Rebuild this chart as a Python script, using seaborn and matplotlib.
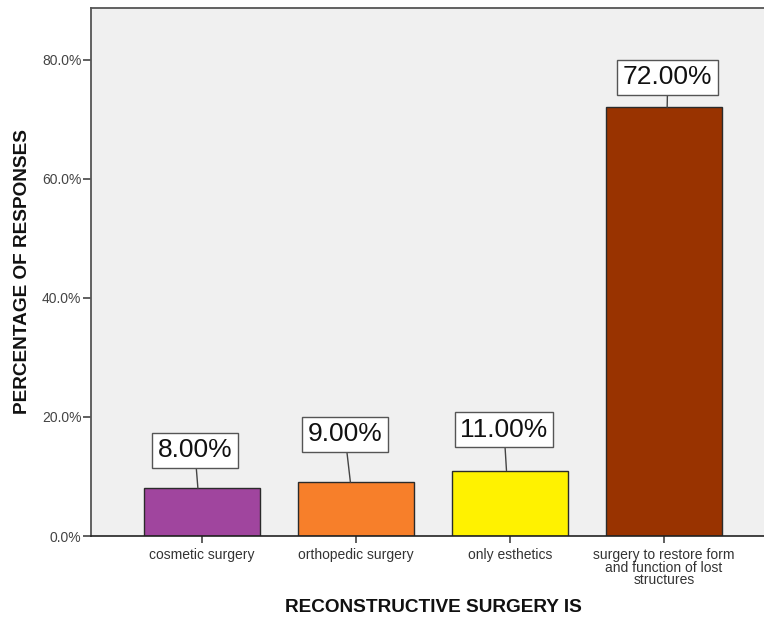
import matplotlib
matplotlib.use("Agg")
import matplotlib.pyplot as plt
import seaborn as sns
import pandas as pd
from matplotlib.ticker import FuncFormatter

# Data
categories = [
    "cosmetic surgery",
    "orthopedic surgery",
    "only esthetics",
    "surgery to restore form\nand function of lost\nstructures",
]
percentages = [8.00, 9.00, 11.00, 72.00]
bar_colors = ["#A0459E", "#F77F2A", "#FFF200", "#993300"]
y_ticks = [0, 20, 40, 60, 80]

df = pd.DataFrame({"category": categories, "pct": percentages})

sns.set_theme(style="white")
plt.rcParams["font.family"] = ["Liberation Sans", "DejaVu Sans"]

fig = plt.figure(figsize=(7.64, 6.21), dpi=100)
ax = fig.add_axes([91 / 764, 1 - 536 / 621, 684 / 764, 528 / 621])
ax.set_facecolor("#F0F0F0")

sns.barplot(
    data=df, x="category", y="pct", hue="category", palette=bar_colors,
    legend=False, width=0.75, edgecolor="#2b2b2b", linewidth=1.0,
    saturation=1, ax=ax,
)

ax.set_xlim(-0.72, 3.72)
ax.set_ylim(0, 88.7)
ax.set_yticks(y_ticks)
ax.yaxis.set_major_formatter(FuncFormatter(lambda v, _: f"{v:.1f}%"))

ax.tick_params(axis="y", direction="out", length=6, width=1.2, color="#444444",
               labelsize=10, labelcolor="#444444", pad=1, left=True)
ax.tick_params(axis="x", direction="out", length=5, width=1.2, color="#444444",
               labelsize=10, labelcolor="#333333", pad=4, bottom=True)
for lbl in ax.get_xticklabels():
    lbl.set_multialignment("center")
    lbl.set_linespacing(0.85)

for side in ["left", "top"]:
    ax.spines[side].set_color("#555555")
    ax.spines[side].set_linewidth(1.3)
ax.spines["bottom"].set_color("#222222")
ax.spines["bottom"].set_linewidth(1.2)
ax.spines["right"].set_visible(False)

ax.set_xlabel("RECONSTRUCTIVE SURGERY IS", fontsize=13.7, fontweight="bold",
              color="#111111", va="center")
ax.xaxis.set_label_coords(0.5, -0.1345)
ax.set_ylabel("PERCENTAGE OF RESPONSES", fontsize=13.7, fontweight="bold",
              color="#111111", labelpad=8)

# Value callouts: (anchor shift along x in category units, box offset in points)
callout_style = [(-0.026, (-2.2, 27.4)), (-0.036, (-4.0, 34.6)),
                 (-0.023, (-1.8, 29.5)), (0.02, (0.4, 21.6))]
for i, (val, (dx, off)) in enumerate(zip(percentages, callout_style)):
    ax.annotate(
        f"{val:.2f}%", xy=(i + dx, val), xytext=off, textcoords="offset points",
        ha="center", va="center", fontsize=19, color="#111111",
        bbox=dict(boxstyle="square,pad=0.22", fc="white", ec="#555555", lw=1.0),
        arrowprops=dict(arrowstyle="-", color="#444444", lw=1.0,
                        shrinkA=0, shrinkB=0),
    )

fig.savefig("out.png", dpi=100)
